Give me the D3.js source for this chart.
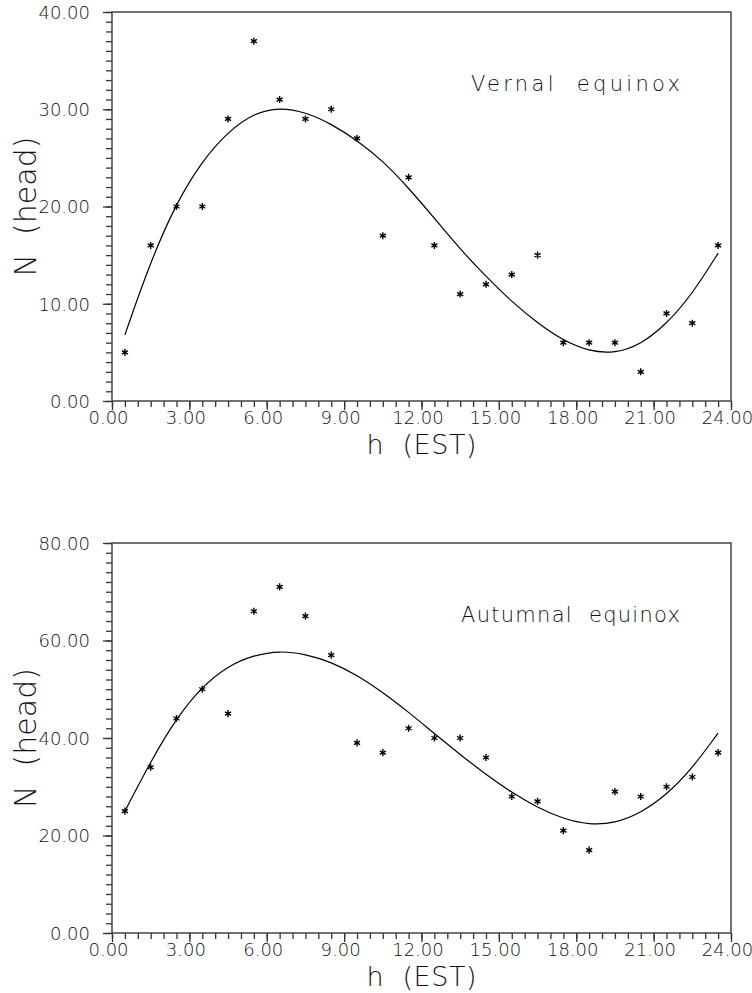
<!DOCTYPE html>
<html>
<head>
<meta charset="utf-8">
<script src="https://cdn.jsdelivr.net/npm/d3@7"></script>
<style>
  html, body { margin: 0; padding: 0; background: #fff; }
  svg { display: block; }
  .tick text { font-family: "DejaVu Sans", sans-serif; font-weight: 200; fill: #111; }
  .title { font-family: "DejaVu Sans", sans-serif; font-weight: 200; fill: #111; white-space: pre; }
</style>
</head>
<body>
<div id="svg-container"></div>
<script>
////////////////////////////  Data  ///////////////////////////////
const hours = [0.5, 1.5, 2.5, 3.5, 4.5, 5.5, 6.5, 7.5, 8.5, 9.5, 10.5, 11.5,
  12.5, 13.5, 14.5, 15.5, 16.5, 17.5, 18.5, 19.5, 20.5, 21.5, 22.5, 23.5];

// vernal equinox: counts and fitted curve
const vernalCount = [5, 16, 20, 20, 29, 37, 31, 29, 30, 27, 17, 23,
  16, 11, 12, 13, 15, 6, 6, 6, 3, 9, 8, 16];
const vernalFit = [6.8, 14.4, 20.4, 24.7, 27.7, 29.6, 30.2, 29.7, 28.5, 26.8, 24.7, 21.9,
  18.8, 15.6, 12.8, 10.2, 8.0, 6.2, 5.1, 4.9, 5.8, 7.9, 11.0, 15.2];

// autumnal equinox
const autumnCount = [25, 34, 44, 50, 45, 66, 71, 65, 57, 39, 37, 42,
  40, 40, 36, 28, 27, 21, 17, 29, 28, 30, 32, 37];
const autumnFit = [25.0, 35.2, 44.1, 50.6, 54.8, 57.0, 57.9, 57.2, 55.6, 52.9, 49.4, 45.3,
  40.9, 36.6, 32.5, 28.8, 25.7, 23.4, 22.2, 22.5, 24.6, 28.3, 33.8, 41.0];

const xMajorTicks = [0, 3, 6, 9, 12, 15, 18, 21, 24];
const vernalYTicks = [0, 10, 20, 30, 40];
const autumnYTicks = [0, 20, 40, 60, 80];

const panels = [
  { label: "Vernal equinox", count: vernalCount, fit: vernalFit, yMax: 40, yTicks: vernalYTicks, yMinorStep: 1, top: 12, bottom: 401, labelLeft: 471 },
  { label: "Autumnal equinox", count: autumnCount, fit: autumnFit, yMax: 80, yTicks: autumnYTicks, yMinorStep: 2, top: 543, bottom: 933, labelLeft: 461 },
];

////////////////////////////  Init  ///////////////////////////////
const width = 752;
const height = 993;
const margin = { left: 112, right: 21 };

const svg = d3.select("#svg-container").append("svg")
  .attr("width", width)
  .attr("height", height);

const x = d3.scaleLinear()
  .domain([0, 24])
  .range([margin.left, width - margin.right]);

const fmt = d3.format(".2f");

const star = d3.symbol().type(d3.symbolAsterisk || d3.symbolCross).size(34);

panels.forEach((p) => {
  const y = d3.scaleLinear().domain([0, p.yMax]).range([p.bottom, p.top]);
  const g = svg.append("g");

  // minor ticks
  g.append("g")
    .attr("transform", `translate(0, ${p.bottom})`)
    .call(d3.axisBottom(x).tickValues(d3.range(0, 24.01, 0.5)).tickSize(6).tickFormat(""))
    .call((a) => a.select(".domain").remove());
  g.append("g")
    .attr("transform", `translate(${margin.left}, 0)`)
    .call(d3.axisLeft(y).tickValues(d3.range(0, p.yMax + 0.01, p.yMinorStep)).tickSize(6).tickFormat(""))
    .call((a) => a.select(".domain").remove());

  // major ticks with labels
  const xa = g.append("g")
    .attr("transform", `translate(0, ${p.bottom})`)
    .call(d3.axisBottom(x).tickValues(xMajorTicks).tickSize(9).tickPadding(1).tickFormat(fmt))
    .call((a) => a.select(".domain").remove());
  xa.selectAll("text").attr("font-size", 18).attr("dx", -4);

  const ya = g.append("g")
    .attr("transform", `translate(${margin.left}, 0)`)
    .call(d3.axisLeft(y).tickValues(p.yTicks).tickSize(9).tickPadding(13).tickFormat(fmt))
    .call((a) => a.select(".domain").remove());
  ya.selectAll("text").attr("font-size", 18).attr("dy", "0.36em");

  g.selectAll(".tick line").attr("stroke", "#333").attr("stroke-width", 1.3);

  // frame
  g.append("rect")
    .attr("x", x(0))
    .attr("y", p.top)
    .attr("width", x(24) - x(0))
    .attr("height", p.bottom - p.top)
    .attr("fill", "none")
    .attr("stroke", "#444")
    .attr("stroke-width", 1.5);

  // fitted curve
  const line = d3.line()
    .x((d, i) => x(hours[i]))
    .y((d) => y(d))
    .curve(d3.curveBasis);
  g.append("path")
    .datum(p.fit)
    .attr("d", line)
    .attr("fill", "none")
    .attr("stroke", "#000")
    .attr("stroke-width", 1.2);

  // observed counts
  g.selectAll(".pt")
    .data(p.count)
    .enter()
    .append("path")
    .attr("class", "pt")
    .attr("transform", (d, i) => `translate(${x(hours[i])}, ${y(d)})`)
    .attr("d", star)
    .attr("fill", "none")
    .attr("stroke", "#000")
    .attr("stroke-width", 1.4);

  // labels
  g.append("text")
    .attr("class", "title")
    .attr("x", p.labelLeft)
    .attr("y", p.top + 79)
    .attr("font-size", 21)
    .attr("textLength", x(24) - 51 - p.labelLeft)
    .attr("lengthAdjust", "spacing")
    .text(p.label.replace(" ", "  "));

  g.append("text")
    .attr("class", "title")
    .attr("x", (x(0) + x(24)) / 2)
    .attr("y", p.bottom + 53)
    .attr("text-anchor", "middle")
    .attr("font-size", 27)
    .attr("textLength", 110)
    .attr("lengthAdjust", "spacing")
    .text("h  (EST)");

  g.append("text")
    .attr("class", "title")
    .attr("transform", `translate(36, ${(p.top + p.bottom) / 2}) rotate(-90)`)
    .attr("text-anchor", "middle")
    .attr("font-size", 30)
    .text("N  (head)");
});
</script>
</body>
</html>
